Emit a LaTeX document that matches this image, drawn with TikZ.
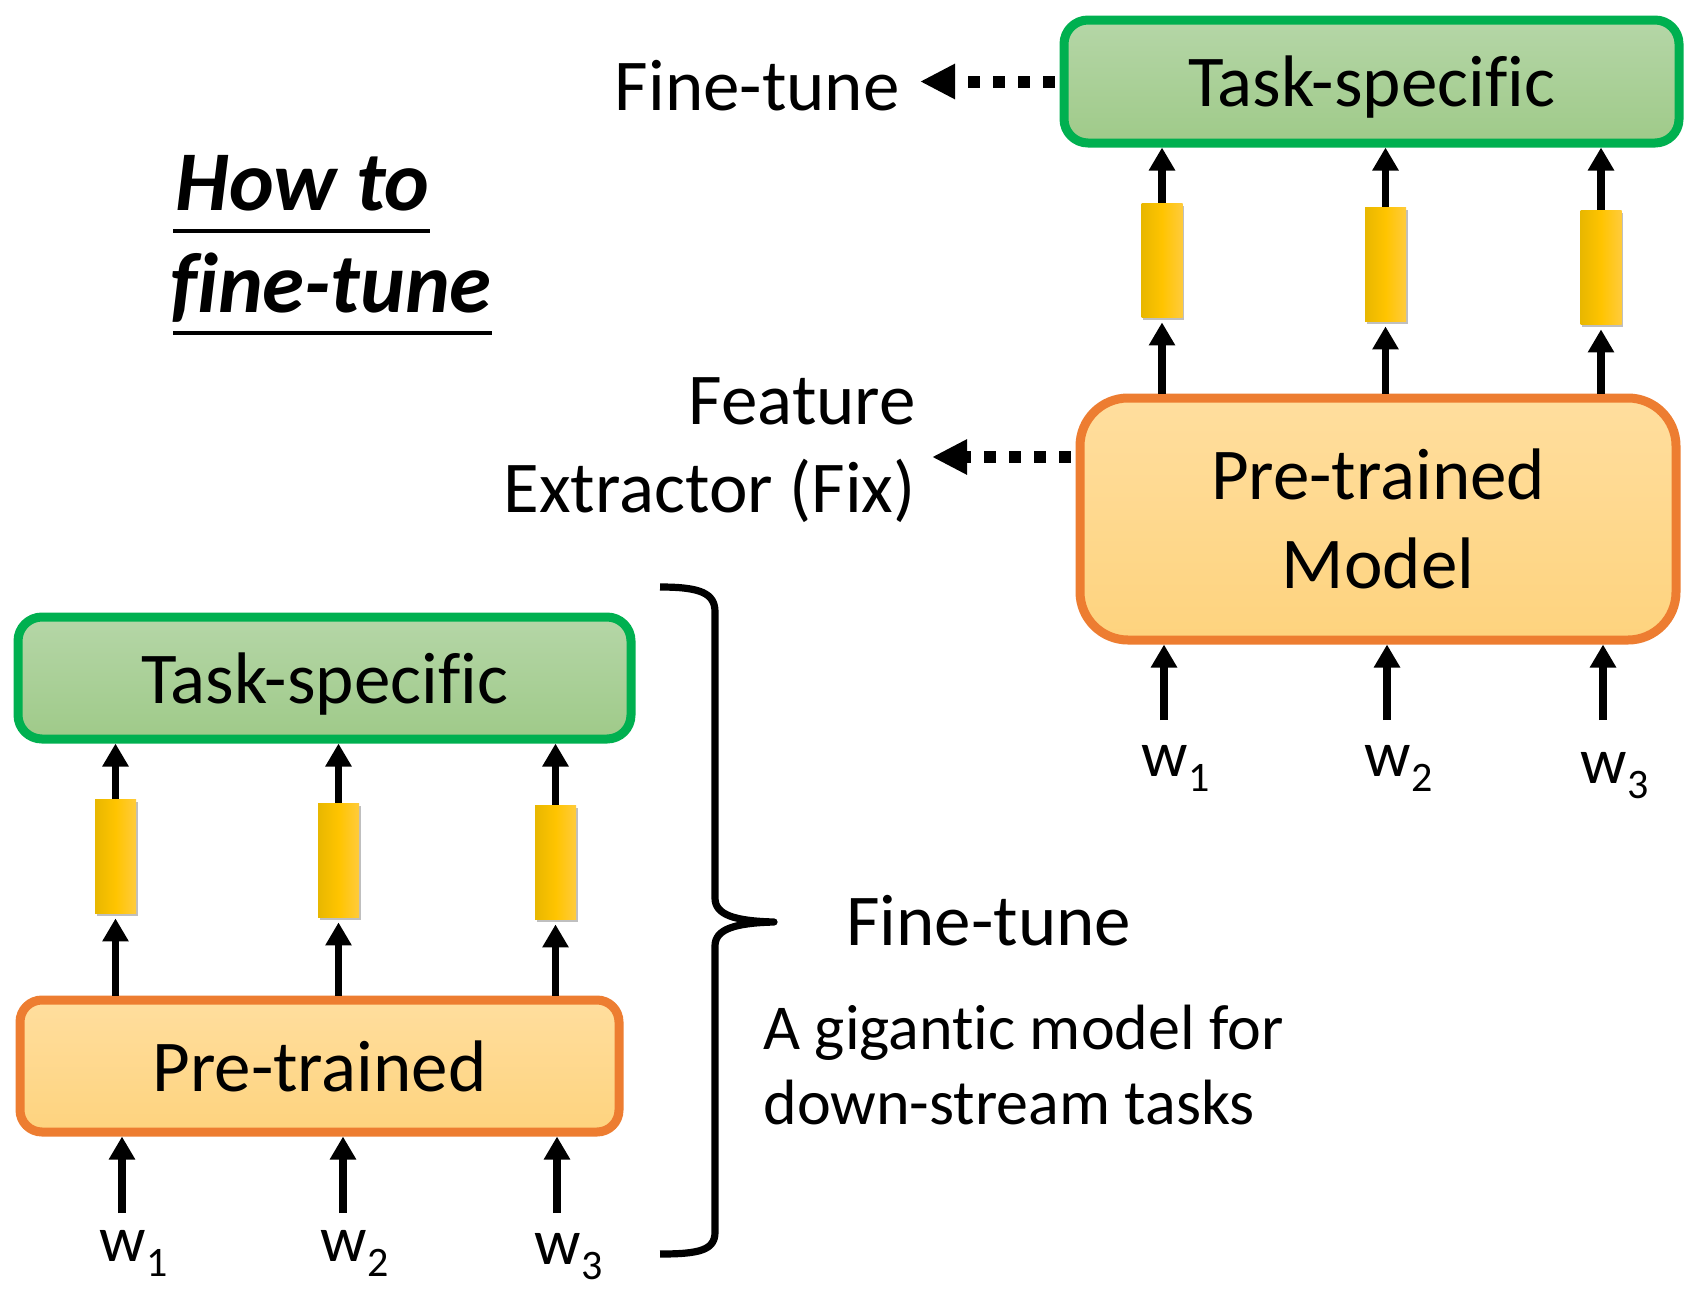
\documentclass[tikz,border=0pt]{standalone}
\usepackage{fontspec}
\setmainfont{Carlito}[Ligatures=CommonOff]
\usetikzlibrary{arrows.meta,shadows}

\definecolor{grnline}{HTML}{00B050}
\definecolor{grntop}{HTML}{B5D6A7}
\definecolor{grnbot}{HTML}{9FCA89}
\definecolor{orgline}{HTML}{ED7D31}
\definecolor{orgtop}{HTML}{FFDE9E}
\definecolor{orgbot}{HTML}{FED37E}
\definecolor{barL}{HTML}{E8B700}
\definecolor{barM}{HTML}{FFC400}
\definecolor{barR}{HTML}{FFCB3C}

% w with a lowered index
\newcommand\wsub[1]{w\kern0.5pt\raisebox{-7.5pt}{\fontsize{21}{21}\selectfont #1}}
% keeps letter pairs such as f+i apart
\newcommand\nl{\kern0pt}

\tikzset{
  taskbox/.style={draw=grnline, line width=4.5pt, rounded corners=12pt,
    top color=grntop, bottom color=grnbot, inner sep=0pt, text depth=0pt,
    font=\fontsize{36.5}{44}\selectfont},
  pretrbox/.style={draw=orgline, line width=4.5pt,
    top color=orgtop, bottom color=orgbot, inner sep=0pt, align=center,
    font=\fontsize{36.5}{44.5}\selectfont},
  vecbar/.style={minimum width=20.5pt, minimum height=57pt, inner sep=0pt,
    left color=barL, right color=barR, middle color=barM,
    drop shadow={shadow xshift=0.8pt, shadow yshift=-1.6pt, opacity=0.25, fill=black}},
  uparrow/.style={line width=3.8pt, -{Triangle[length=11.5pt,width=12.5pt]}},
  dotarrow/.style={line width=6pt, dash pattern=on 6pt off 6.5pt,
    -{Triangle[length=17.5pt,width=16.5pt]}},
  bigtext/.style={inner sep=0pt, font=\fontsize{36.5}{44.5}\selectfont},
  medtext/.style={inner sep=0pt, font=\fontsize{32}{38}\selectfont},
  wlabel/.style={inner sep=0pt, anchor=base west, font=\fontsize{32.5}{36}\selectfont},
  titletext/.style={inner sep=0pt, anchor=base west,
    font=\fontsize{42.5}{50}\selectfont\bfseries\itshape},
  uline/.style={line width=2.2pt},
  bracestyle/.style={line width=3.6pt, line join=round}
}

\begin{document}
\begin{tikzpicture}[x=0.5pt, y=-0.5pt]
  \useasboundingbox (0,0) rectangle (1690,1290);
  \fill[white] (0,0) rectangle (1690,1290);

  % ---------- title ----------
  \node[titletext] (ht) at (175,210) {How to};
  \node[titletext] (hf) at (170,312) {f\nl ine-tune};
  \draw[uline] ([xshift=-1pt,yshift=-10.5pt]ht.base west) -- ([yshift=-10.5pt]ht.base east);
  \draw[uline] ([xshift=1.5pt,yshift=-10.5pt]hf.base west) -- ([yshift=-10.5pt]hf.base east);

  % ---------- feature-extractor / fine-tune scheme (right) ----------
  \node[taskbox, minimum width=307.5pt, minimum height=61.5pt] (TS) at (1371.5,81.5) {Task-speci\nl f\nl ic};
  \node[pretrbox, rounded corners=24pt, minimum width=298pt, minimum height=121pt] (PM) at (1378,519) {Pre-trained\\Model};

  \node[vecbar] (b1) at (1162,260) {};
  \node[vecbar] (b2) at (1385.5,264) {};
  \node[vecbar] (b3) at (1601,267) {};

  \foreach \b in {b1,b2,b3}{
    \draw[uparrow] (\b.north) -- (TS.south -| \b);
    \draw[uparrow] (PM.north -| \b) -- ([yshift=-2.5pt]\b.south);
  }

  \coordinate (i1) at (1164,720);
  \coordinate (i2) at (1387,720);
  \coordinate (i3) at (1603,720);
  \foreach \i in {i1,i2,i3}{
    \draw[uparrow] (\i) -- (PM.south -| \i);
  }
  \node[wlabel] (w1) at (1141,776) {\wsub{1}};
  \node[wlabel] (w2) at (1364,776) {\wsub{2}};
  \node[wlabel] (w3) at (1580,783) {\wsub{3}};

  \node[bigtext, anchor=base east] (ft) at (900,110) {Fine-tune};
  \coordinate (fttip) at (920,0);
  \draw[dotarrow] ([xshift=-2.5pt]TS.west) -- (TS.west -| fttip);

  \node[bigtext, anchor=base east] (fe1) at (916,424) {Feature};
  \node[bigtext, anchor=base east] (fe2) at (916,512) {Extractor (Fix)};
  \coordinate (fetip) at (932,457);
  \draw[dotarrow] (PM.west |- fetip) ++(-2.5pt,0) -- (fetip);

  % ---------- whole-model fine-tuning scheme (left) ----------
  \node[taskbox, minimum width=306.5pt, minimum height=61pt] (TSb) at (324.5,678) {Task-speci\nl f\nl ic};
  \node[pretrbox, rounded corners=11pt, minimum width=299.5pt, minimum height=66pt] (PT) at (319.5,1066) {Pre-trained};

  \node[vecbar] (b4) at (115.5,856) {};
  \node[vecbar] (b5) at (338.5,860) {};
  \node[vecbar] (b6) at (555.5,862) {};

  \foreach \b in {b4,b5,b6}{
    \draw[uparrow] (\b.north) -- (TSb.south -| \b);
    \draw[uparrow] (PT.north -| \b) -- ([yshift=-2.5pt]\b.south);
  }

  \coordinate (j1) at (122,1213);
  \coordinate (j2) at (343,1213);
  \coordinate (j3) at (557,1213);
  \foreach \j in {j1,j2,j3}{
    \draw[uparrow] (\j) -- (PT.south -| \j);
  }
  \node[wlabel] (w4) at (99,1261) {\wsub{1}};
  \node[wlabel] (w5) at (320,1261) {\wsub{2}};
  \node[wlabel] (w6) at (534,1264) {\wsub{3}};

  % brace grouping the left scheme
  \draw[bracestyle] (660,587) .. controls (700,587) and (715,593) .. (715,612)
    -- (715,898) .. controls (715,915) and (735,921) .. (774,922)
    .. controls (735,923) and (715,929) .. (715,946)
    -- (715,1232) .. controls (715,1250) and (700,1254) .. (660,1254);

  \node[bigtext, anchor=base west] (ft2) at (846,945) {Fine-tune};
  \node[medtext, anchor=base west] (gm1) at (763,1049) {A gigant\nl ic model for};
  \node[medtext, anchor=base west] (gm2) at (763,1124) {down-stream tasks};
\end{tikzpicture}
\end{document}
